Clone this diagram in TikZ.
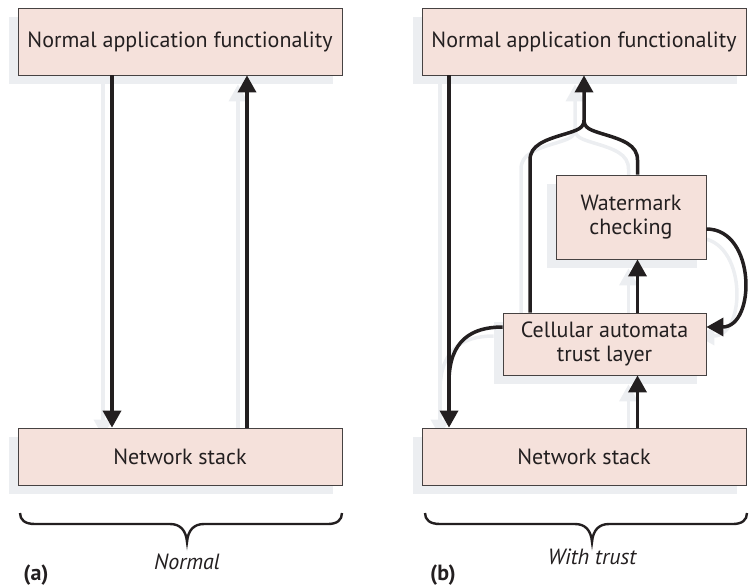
\documentclass[tikz,border=0pt]{standalone}
\usepackage{fontspec}
\setmainfont{PT Sans}
\usetikzlibrary{arrows.meta,calc}
\pgfdeclarelayer{shl}
\pgfsetlayers{shl,main}
\definecolor{boxfill}{RGB}{245,225,219}
\definecolor{shc}{RGB}{236,238,241}
\definecolor{ink}{RGB}{35,31,32}
\definecolor{edge}{RGB}{70,66,66}
\newcommand\conn[2]{%
  \begin{pgfonlayer}{shl}\draw[#1,draw=shc,transform canvas={shift={(-9pt,-9pt)}}] #2;\end{pgfonlayer}%
  \draw[#1] #2;}
\newcommand\bracepath{%
  \draw[ink, line width=2.4pt] (20,513) .. controls (20,520) and (25,524) .. (35,524) -- (170,524)
    .. controls (180,524) and (186,530) .. (187,542)
    .. controls (188,530) and (194,524) .. (204,524) -- (328,524)
    .. controls (337,524) and (342,520) .. (342,513);}
\begin{document}
\begin{tikzpicture}[x=1pt,y=-1pt,
  font=\fontsize{22}{24}\selectfont,
  box/.style={draw=edge, line width=0.8pt, fill=boxfill, text=ink, inner sep=0pt, align=center},
  arr/.style={ink, line width=3.5pt, -{Triangle[length=17pt,width=18pt]}},
  ln/.style={ink, line width=3.5pt},
  lbl/.style={text=ink, inner sep=0pt}]
\useasboundingbox (0,0) rectangle (749,587);
% boxes
\node[box, minimum width=324pt, minimum height=67pt] (lt) at (180,41.5) {Normal application functionality};
\node[box, minimum width=324pt, minimum height=57pt] (lb) at (180,456.5) {Network stack};
\node[box, minimum width=324pt, minimum height=67pt] (rt) at (584,41.5) {Normal application functionality};
\node[box, minimum width=324pt, minimum height=57pt] (rb) at (584,456.5) {Network stack};
\node[box, minimum width=150pt, minimum height=84pt] (wm) at (631,217) {Watermark\\checking};
\node[box, minimum width=203pt, minimum height=62pt] (ca) at (604.5,344) {Cellular automata\\trust layer};
% box shadows
\begin{pgfonlayer}{shl}
\foreach \n in {lt,lb,rt,rb,wm,ca}{
  \fill[shc] ([shift={(-9pt,-9pt)}]\n.south west) rectangle ([shift={(-9pt,-9pt)}]\n.north east);}
\end{pgfonlayer}
% x positions
\coordinate (xa) at (112,0);
\coordinate (xb) at (247,0);
\coordinate (xc) at (449,0);
\coordinate (xd) at (530,0);
\coordinate (xe) at (637.5,0);
\coordinate (xm) at (584,0);
\coordinate (merge) at (584,120);
% connectors (a)
\conn{arr}{(lt.south -| xa) -- (lb.north -| xa)}
\conn{arr}{(lb.north -| xb) -- (lt.south -| xb)}
% connectors (b)
\conn{arr}{(rt.south -| xc) -- (rb.north -| xc)}
\conn{arr}{(rb.north -| xe) -- (ca.south -| xe)}
\conn{arr}{(ca.north -| xe) -- (wm.south -| xe)}
\conn{ln}{(wm.north -| xe) -- (637.5,160) .. controls (637.5,145) and (623,140) .. (603,134) .. controls (590,130) and (584,128) .. (merge)}
\conn{arr}{(ca.north -| xd) -- (530,160) .. controls (530,145) and (545,140) .. (565,134) .. controls (578,130) and (584,128) .. (merge) -- (rt.south -| xm)}
\conn{arr}{($(wm.east)+(0,12)$) to[out=0,in=0,looseness=1.3] ($(ca.east)+(0,-17)$)}
\conn{ln}{($(ca.west)+(0,-17)$) .. controls (472,327) and (449,340) .. (449,382)}
% braces
\bracepath
\begin{scope}[xshift=405pt]\bracepath\end{scope}
% labels
\node[lbl, font=\fontsize{22}{24}\selectfont\itshape] (normal) at (187,562) {Normal};
\node[lbl, font=\fontsize{22}{24}\selectfont\itshape] (withtrust) at (592,557) {With trust};
\node[lbl, font=\fontsize{22}{24}\selectfont\bfseries] (laba) at (36,575) {(a)};
\node[lbl, font=\fontsize{22}{24}\selectfont\bfseries] (labb) at (443,575) {(b)};
\end{tikzpicture}
\end{document}
